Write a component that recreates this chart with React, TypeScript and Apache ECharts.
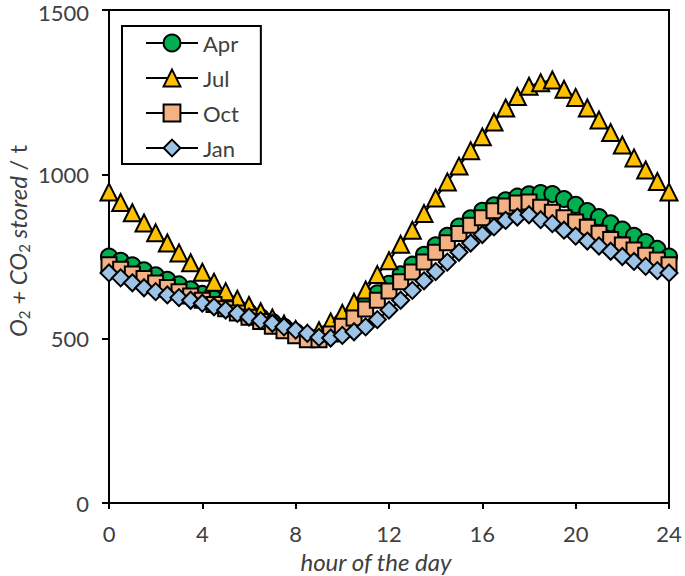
import React, { useEffect, useRef } from "react";
import * as echarts from "echarts";

const hours = [0, 0.5, 1, 1.5, 2, 2.5, 3, 3.5, 4, 4.5, 5, 5.5, 6, 6.5, 7, 7.5, 8, 8.5, 9, 9.5, 10, 10.5, 11, 11.5, 12, 12.5, 13, 13.5, 14, 14.5, 15, 15.5, 16, 16.5, 17, 17.5, 18, 18.5, 19, 19.5, 20, 20.5, 21, 21.5, 22, 22.5, 23, 23.5, 24];

const apr = [750, 737, 723, 708, 693, 679, 665, 650, 636, 622, 608, 594, 580, 566, 551, 536, 521, 508, 506, 524, 553, 581, 609, 638, 667, 696, 725, 755, 784, 813, 841, 866, 889, 906, 921, 932, 939, 943, 940, 925, 907, 888, 870, 851, 832, 813, 794, 773, 750];

const jul = [946, 914, 883, 852, 822, 791, 761, 731, 702, 672, 643, 620, 601, 582, 563, 545, 528, 515, 524, 551, 577, 611, 648, 695, 737, 787, 830, 881, 928, 977, 1025, 1072, 1114, 1159, 1202, 1237, 1268, 1279, 1287, 1259, 1234, 1202, 1165, 1127, 1089, 1050, 1013, 978, 946];

const oct = [725, 711, 697, 683, 669, 656, 643, 630, 617, 604, 591, 578, 565, 552, 538, 524, 509, 497, 497, 514, 538, 563, 590, 617, 645, 673, 703, 733, 763, 792, 820, 845, 868, 889, 904, 913, 916, 900, 885, 868, 855, 839, 821, 802, 785, 770, 754, 739, 725];

const jan = [700, 685, 670, 655, 643, 633, 625, 617, 608, 597, 587, 577, 566, 555, 547, 536, 526, 516, 504, 502, 510, 521, 536, 558, 587, 617, 647, 676, 704, 733, 763, 791, 817, 840, 860, 870, 877, 862, 850, 830, 812, 797, 782, 766, 750, 735, 720, 707, 700];

const xTicks = [0, 4, 8, 12, 16, 20, 24];
const yTicks = [0, 500, 1000, 1500];

const FONT = "Lato, 'Open Sans', sans-serif";
const TEXT = "#404040";

export default function App() {
  const ref = useRef<HTMLDivElement>(null);
  useEffect(() => {
    if (!ref.current) return;
    const chart = echarts.init(ref.current, undefined, { renderer: "svg" });
    const mk = (name: string, vals: number[], symbol: string, size: number, color: string) => ({
      name,
      type: "line",
      data: hours.map((h, i) => [h, vals[i]]),
      symbol,
      symbolSize: size,
      showAllSymbol: true,
      clip: false,
      lineStyle: { color: "#000", width: 2 },
      itemStyle: { color, borderColor: "#000", borderWidth: 2 },
      emphasis: { disabled: true },
    });
    const yMax = yTicks[yTicks.length - 1];
    chart.setOption({
      animation: false,
      grid: {
        left: 109,
        top: 10,
        right: 16,
        bottom: 73,
        containLabel: false,
        outerBoundsMode: "none",
        show: true,
        borderColor: "#000",
        borderWidth: 2,
        backgroundColor: "transparent",
      },
      xAxis: {
        type: "value",
        min: xTicks[0],
        max: xTicks[xTicks.length - 1],
        interval: 4,
        axisLine: { lineStyle: { color: "#000", width: 2 } },
        axisTick: { inside: false, length: 6, lineStyle: { color: "#000", width: 2 } },
        axisLabel: { fontSize: 22, color: TEXT, fontFamily: FONT, margin: 19 },
        splitLine: { show: false },
      },
      yAxis: {
        type: "value",
        min: yTicks[0],
        max: yMax,
        interval: 500,
        axisLine: { lineStyle: { color: "#000", width: 2 } },
        axisTick: { show: true, inside: false, length: 7, lineStyle: { color: "#000", width: 2 } },
        axisLabel: {
          fontSize: 22,
          color: TEXT,
          fontFamily: FONT,
          margin: 20,
          formatter: (v: number) => (v === yMax ? "{t|" + v + "}" : String(v)),
          rich: {
            t: { fontSize: 22, color: TEXT, fontFamily: FONT, lineHeight: 20, padding: [5, 0, 0, 0] },
          },
        },
        splitLine: { show: false },
      },
      legend: {
        orient: "vertical",
        left: 122,
        top: 26,
        backgroundColor: "#fff",
        borderColor: "#000",
        borderWidth: 2,
        borderRadius: 0,
        padding: [6, 22, 5, 23],
        itemWidth: 52,
        itemHeight: 21,
        itemGap: 13,
        textStyle: { fontSize: 22, color: TEXT, fontFamily: FONT },
        data: ["Apr", "Jul", "Oct", "Jan"],
      },
      graphic: [
        {
          type: "text",
          x: 18,
          y: 241,
          rotation: Math.PI / 2,
          style: {
            text: "{i|O}{s|2}{i| + CO}{s|2}{i| stored }{n|/ t}",
            align: "center",
            verticalAlign: "middle",
            fill: TEXT,
            rich: {
              i: { fontSize: 24, fontStyle: "italic", fontFamily: FONT, fill: TEXT, lineHeight: 26, verticalAlign: "top" },
              n: { fontSize: 24, fontFamily: FONT, fill: TEXT, lineHeight: 26, verticalAlign: "top" },
              s: { fontSize: 15, fontFamily: FONT, fill: TEXT, lineHeight: 16, padding: [12, 0, 0, 0], verticalAlign: "bottom" },
            },
          },
        },
        {
          type: "text",
          x: 376,
          y: 561,
          style: {
            text: "hour of the day",
            align: "center",
            verticalAlign: "middle",
            fontSize: 24,
            fontStyle: "italic",
            fontFamily: FONT,
            fill: TEXT,
          },
        },
      ],
      series: [
        mk("Apr", apr, "circle", 16, "#00B050"),
        mk("Jul", jul, "triangle", 17, "#FFC000"),
        mk("Oct", oct, "rect", 15, "#F4B183"),
        mk("Jan", jan, "diamond", 17, "#9DC3E6"),
      ],
    });
    return () => chart.dispose();
  }, []);
  return <div ref={ref} style={{ position: "absolute", left: 0, top: 0, width: 685, height: 576 }} />;
}
